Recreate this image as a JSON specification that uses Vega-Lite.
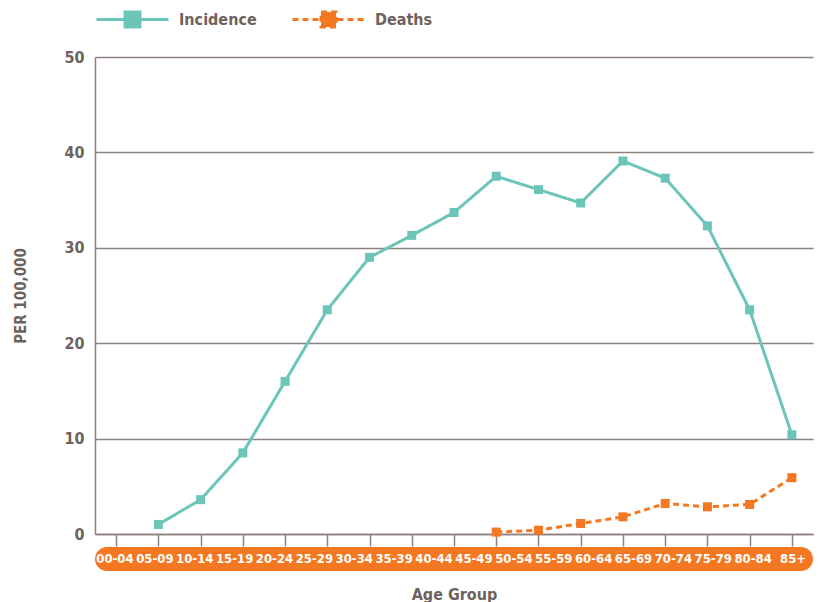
{
  "$schema": "https://vega.github.io/schema/vega-lite/v6.json",
  "background": "white",
  "padding": {"left": 13, "top": 9, "right": 5, "bottom": 5},
  "config": {
    "font": "DejaVu Sans Condensed, sans-serif",
    "view": {"stroke": null},
    "axis": {
      "labelFont": "DejaVu Sans Condensed, sans-serif",
      "titleFont": "DejaVu Sans Condensed, sans-serif",
      "labelColor": "#6e625c",
      "titleColor": "#6e625c",
      "labelFontWeight": "bold",
      "titleFontWeight": "bold",
      "domainColor": "#8c817c",
      "tickColor": "#8c817c",
      "gridColor": "#8c817c"
    }
  },
  "datasets": {
    "rates": [
      {"age": "05-09", "series": "Incidence", "rate": 1.0},
      {"age": "10-14", "series": "Incidence", "rate": 3.6},
      {"age": "15-19", "series": "Incidence", "rate": 8.5},
      {"age": "20-24", "series": "Incidence", "rate": 16.0},
      {"age": "25-29", "series": "Incidence", "rate": 23.5},
      {"age": "30-34", "series": "Incidence", "rate": 29.0},
      {"age": "35-39", "series": "Incidence", "rate": 31.3},
      {"age": "40-44", "series": "Incidence", "rate": 33.7},
      {"age": "45-49", "series": "Incidence", "rate": 37.5},
      {"age": "50-54", "series": "Incidence", "rate": 36.1},
      {"age": "60-64", "series": "Incidence", "rate": 34.7},
      {"age": "65-69", "series": "Incidence", "rate": 39.1},
      {"age": "70-74", "series": "Incidence", "rate": 37.3},
      {"age": "75-79", "series": "Incidence", "rate": 32.3},
      {"age": "80-84", "series": "Incidence", "rate": 23.5},
      {"age": "85+", "series": "Incidence", "rate": 10.4},
      {"age": "45-49", "series": "Deaths", "rate": 0.2},
      {"age": "50-54", "series": "Deaths", "rate": 0.4},
      {"age": "60-64", "series": "Deaths", "rate": 1.1},
      {"age": "65-69", "series": "Deaths", "rate": 1.8},
      {"age": "70-74", "series": "Deaths", "rate": 3.2},
      {"age": "75-79", "series": "Deaths", "rate": 2.85},
      {"age": "80-84", "series": "Deaths", "rate": 3.1},
      {"age": "85+", "series": "Deaths", "rate": 5.9}
    ],
    "groups": [
      {"age": "00-04"}, {"age": "05-09"}, {"age": "10-14"}, {"age": "15-19"},
      {"age": "20-24"}, {"age": "25-29"}, {"age": "30-34"}, {"age": "35-39"},
      {"age": "40-44"}, {"age": "45-49"}, {"age": "50-54"}, {"age": "55-59"},
      {"age": "60-64"}, {"age": "65-69"}, {"age": "70-74"}, {"age": "75-79"},
      {"age": "80-84"}, {"age": "85+"}
    ]
  },
  "spacing": 0,
  "resolve": {"scale": {"x": "independent"}},
  "vconcat": [
    {
      "width": 718,
      "height": 477,
      "data": {"name": "rates"},
      "encoding": {
        "x": {
          "field": "age",
          "type": "ordinal",
          "scale": {
            "type": "point",
            "padding": 0.5,
            "domain": ["00-04", "05-09", "10-14", "15-19", "20-24", "25-29", "30-34", "35-39", "40-44", "45-49", "50-54", "60-64", "65-69", "70-74", "75-79", "80-84", "85+"]
          },
          "axis": {"labels": false, "ticks": true, "tickSize": 12, "tickWidth": 1.5, "domain": true, "domainWidth": 1.5, "grid": false, "title": null}
        },
        "y": {
          "field": "rate",
          "type": "quantitative",
          "scale": {"domain": [0, 50]},
          "axis": {
            "values": [0, 10, 20, 30, 40, 50],
            "grid": true,
            "gridWidth": 1.5,
            "domain": true,
            "domainWidth": 1.5,
            "ticks": false,
            "labelPadding": 11,
            "labelFontSize": 16,
            "title": "PER 100,000",
            "titleFontSize": 15,
            "titlePadding": 35
          }
        }
      },
      "layer": [
        {
          "mark": {"type": "line", "strokeWidth": 3},
          "encoding": {
            "color": {
              "field": "series",
              "type": "nominal",
              "scale": {"domain": ["Incidence", "Deaths"], "range": ["#6cc5b9", "#f47721"]},
              "legend": {
                "title": null,
                "orient": "none",
                "legendX": 27,
                "legendY": -48,
                "direction": "horizontal",
                "symbolType": "M-4,0H-1M1,0H4M-0.83,-0.83H0.83V0.83H-0.83Z",
                "symbolSize": 324,
                "symbolStrokeWidth": 3,
                "labelFontSize": 16,
                "labelFontWeight": "bold",
                "labelColor": "#6e625c",
                "labelOffset": 36,
                "columnPadding": 29
              }
            },
            "strokeDash": {
              "field": "series",
              "type": "nominal",
              "scale": {"domain": ["Incidence", "Deaths"], "range": [[1, 0], [6, 4]]},
              "legend": {
                "title": null,
                "orient": "none",
                "legendX": 27,
                "legendY": -48,
                "direction": "horizontal",
                "symbolType": "M-4,0H-1M1,0H4M-0.83,-0.83H0.83V0.83H-0.83Z",
                "symbolSize": 324,
                "symbolStrokeWidth": 3,
                "labelFontSize": 16,
                "labelFontWeight": "bold",
                "labelColor": "#6e625c",
                "labelOffset": 36,
                "columnPadding": 29
              }
            }
          }
        },
        {
          "mark": {"type": "point", "shape": "square", "filled": true, "size": 81, "opacity": 1},
          "encoding": {
            "color": {"field": "series", "type": "nominal"}
          }
        }
      ]
    },
    {
      "width": 718,
      "height": 24,
      "view": {"fill": "#f47721", "cornerRadius": 12, "stroke": null},
      "data": {"name": "groups"},
      "mark": {"type": "text", "color": "white", "fontWeight": "bold", "fontSize": 13, "baseline": "middle"},
      "encoding": {
        "x": {
          "field": "age",
          "type": "ordinal",
          "sort": null,
          "scale": {"type": "point", "padding": 0.5},
          "axis": {"labels": false, "ticks": false, "domain": false, "grid": false, "title": "Age Group", "titleFontSize": 16, "titlePadding": 15}
        },
        "text": {"field": "age"}
      }
    }
  ]
}
